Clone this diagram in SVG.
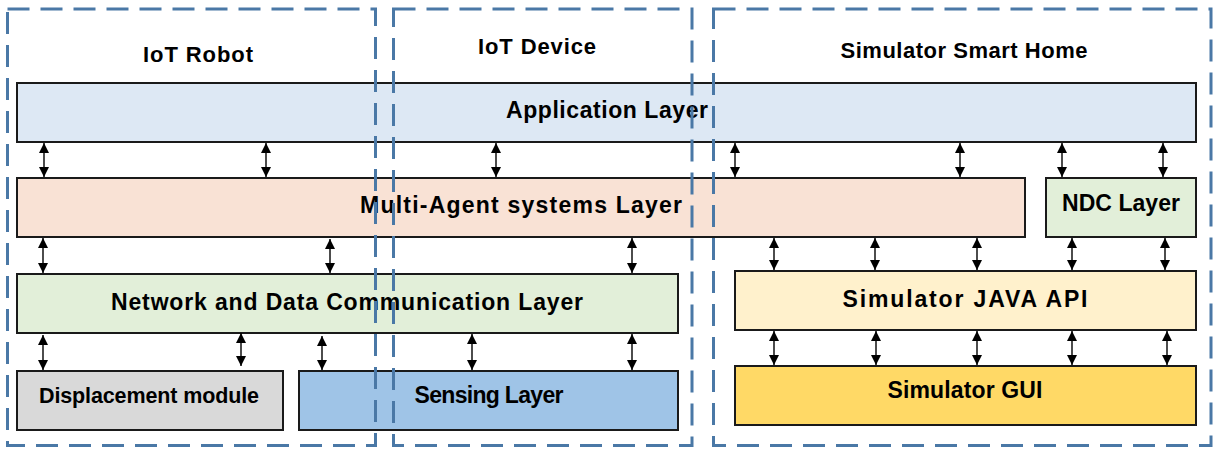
<svg xmlns="http://www.w3.org/2000/svg" width="1223" height="461" viewBox="0 0 1223 461">
<defs>
<marker id="ah" viewBox="0 0 10 10" refX="10" refY="5" markerWidth="10" markerHeight="11" markerUnits="userSpaceOnUse" orient="auto-start-reverse">
<path d="M0,0 L10,5 L0,10 z" fill="#000"/>
</marker>
</defs>
<style>
.box{stroke:#1a1a1a;stroke-width:2}
.lbl{font-family:"Liberation Sans",Arial,sans-serif;font-weight:bold;font-size:23px;fill:#000;text-anchor:middle}
.sm{font-size:21.5px}
.ttl{font-family:"Liberation Sans",Arial,sans-serif;font-weight:bold;font-size:22px;fill:#000;text-anchor:middle}
.grp{fill:none;stroke:#4a78a6;stroke-width:3;stroke-dasharray:22 11}
.arr{stroke:#000;stroke-width:1.4;marker-start:url(#ah);marker-end:url(#ah)}
</style>
<rect width="1223" height="461" fill="#fff"/>

<g id="application-layer">
<rect class="box" x="17" y="83" width="1179" height="59" fill="#dde8f4"/>
<text class="lbl" x="607" y="118" textLength="202">Application Layer</text>
</g>
<g id="multi-agent-layer">
<rect class="box" x="17" y="178" width="1008" height="59" fill="#f9e2d5"/>
<text class="lbl" x="521" y="213" textLength="322">Multi-Agent systems Layer</text>
</g>
<g id="ndc-layer">
<rect class="box" x="1046" y="178" width="150" height="59" fill="#e2efd9"/>
<text class="lbl" x="1121" y="211" textLength="118">NDC Layer</text>
</g>
<g id="network-layer">
<rect class="box" x="17" y="274" width="661" height="59" fill="#e2efd9"/>
<text class="lbl" x="347" y="310" textLength="472">Network and Data Communication Layer</text>
</g>
<g id="java-api">
<rect class="box" x="735" y="271" width="461" height="59" fill="#fff1cc"/>
<text class="lbl" x="965" y="307" textLength="245">Simulator JAVA API</text>
</g>
<g id="displacement-module">
<rect class="box" x="17" y="371" width="266" height="59" fill="#d9d9d9"/>
<text class="lbl sm" x="149" y="403" textLength="220">Displacement module</text>
</g>
<g id="sensing-layer">
<rect class="box" x="299" y="371" width="379" height="59" fill="#9fc4e7"/>
<text class="lbl" x="489" y="403" textLength="149">Sensing Layer</text>
</g>
<g id="simulator-gui">
<rect class="box" x="735" y="366" width="461" height="59" fill="#ffd966"/>
<text class="lbl" x="965" y="398" textLength="155">Simulator GUI</text>
</g>

<g id="connectors">
<line class="arr" x1="44" y1="143" x2="44" y2="177"/>
<line class="arr" x1="266" y1="143" x2="266" y2="177"/>
<line class="arr" x1="496" y1="143" x2="496" y2="177"/>
<line class="arr" x1="735" y1="143" x2="735" y2="177"/>
<line class="arr" x1="960" y1="143" x2="960" y2="177"/>
<line class="arr" x1="1062" y1="143" x2="1062" y2="177"/>
<line class="arr" x1="1163" y1="143" x2="1163" y2="177"/>

<line class="arr" x1="43" y1="238" x2="43" y2="273"/>
<line class="arr" x1="330" y1="239" x2="330" y2="273"/>
<line class="arr" x1="632" y1="238" x2="632" y2="273"/>
<line class="arr" x1="774" y1="238" x2="774" y2="270"/>
<line class="arr" x1="875" y1="238" x2="875" y2="270"/>
<line class="arr" x1="977" y1="238" x2="977" y2="270"/>
<line class="arr" x1="1072" y1="238" x2="1072" y2="270"/>
<line class="arr" x1="1165" y1="238" x2="1165" y2="270"/>

<line class="arr" x1="43" y1="335" x2="43" y2="370"/>
<line class="arr" x1="241" y1="333" x2="241" y2="366"/>
<line class="arr" x1="322" y1="336" x2="322" y2="370"/>
<line class="arr" x1="472" y1="334" x2="472" y2="370"/>
<line class="arr" x1="632" y1="334" x2="632" y2="370"/>

<line class="arr" x1="774" y1="331" x2="774" y2="365"/>
<line class="arr" x1="876" y1="331" x2="876" y2="365"/>
<line class="arr" x1="977" y1="331" x2="977" y2="365"/>
<line class="arr" x1="1072" y1="331" x2="1072" y2="365"/>
<line class="arr" x1="1167" y1="331" x2="1167" y2="365"/>
</g>

<g id="iot-robot">
<rect class="grp" x="7.5" y="9" width="368" height="436.5"/>
<text class="ttl" x="198" y="62" textLength="110">IoT Robot</text>
</g>
<g id="iot-device">
<rect class="grp" x="393.5" y="9" width="298.5" height="436.5"/>
<text class="ttl" x="537" y="54" textLength="118">IoT Device</text>
</g>
<g id="simulator-smart-home">
<rect class="grp" x="713.5" y="9" width="497.5" height="436.5"/>
<text class="ttl" x="964" y="58" textLength="247">Simulator Smart Home</text>
</g>
</svg>
